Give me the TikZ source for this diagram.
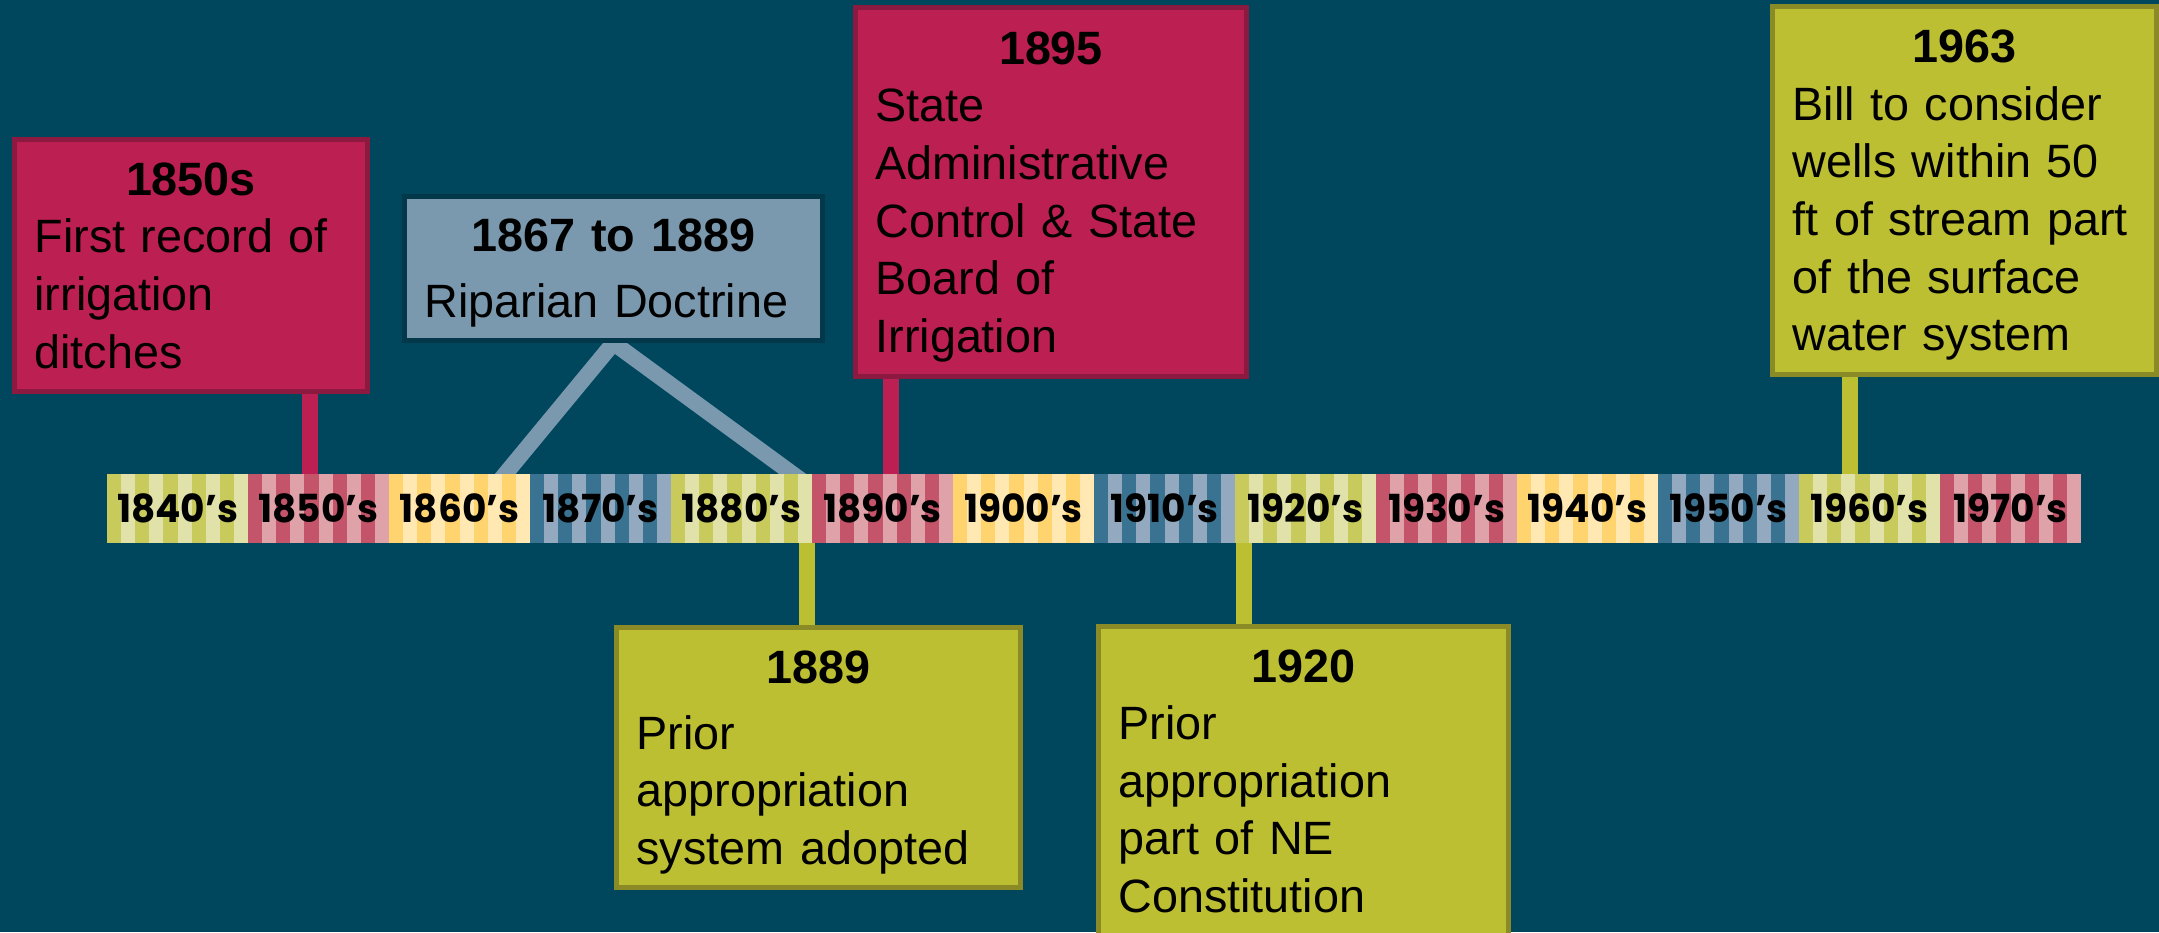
\documentclass[tikz,border=0pt]{standalone}
\usepackage{fontspec}
\setmainfont{Liberation Sans}
\newfontfamily\decadefont{Poppins}[FakeStretch=0.97]
\usetikzlibrary{positioning, calc}

\definecolor{bgblue}{HTML}{00475E}
\definecolor{grnD}{HTML}{C8CB5C}
\definecolor{grnL}{HTML}{E0E2AA}
\definecolor{pnkD}{HTML}{C4546A}
\definecolor{pnkL}{HTML}{DFA2A8}
\definecolor{ylwD}{HTML}{FFD36E}
\definecolor{ylwL}{HTML}{FFE8B2}
\definecolor{bluD}{HTML}{3A7291}
\definecolor{bluL}{HTML}{93A9BF}
\definecolor{evred}{HTML}{BC1F52}
\definecolor{evredline}{HTML}{8C1A40}
\definecolor{evolive}{HTML}{BDBF33}
\definecolor{evoliveline}{HTML}{8A8B26}
\definecolor{evslate}{HTML}{7A99AE}
\definecolor{evslateline}{HTML}{02384A}

\pgfdeclarelayer{bg}
\pgfdeclarelayer{stems}
\pgfsetlayers{bg,stems,main}

% title line centred, rest left, no depth below last line
\newcommand{\evtext}[2]{{\centering\bfseries #1\par}#2\par\kern-\prevdepth}

\tikzset{
  evbox/.style={rectangle, draw, line width=0.05cm, inner xsep=0.2cm, inner ysep=0pt,
    align=left, font=\fontsize{13.3}{16.4}\selectfont},
  redbox/.style={evbox, fill=evred, draw=evredline},
  olivebox/.style={evbox, fill=evolive, draw=evoliveline},
  slatebox/.style={evbox, fill=evslate, draw=evslateline},
  stem/.style={line width=0.16cm},
  decade/.style={rectangle, minimum width=1.41cm, minimum height=0.69cm, inner sep=0pt,
    font=\decadefont\bfseries\fontsize{11}{13}\selectfont}
}

\begin{document}
\begin{tikzpicture}
    \useasboundingbox (0,0) rectangle (21.59,9.32);
    \begin{pgfonlayer}{bg}
      \fill[bgblue] (0,0) rectangle (21.59,9.32);
    \end{pgfonlayer}

    % Decade bar
    \foreach \yr/\dk/\lt [count=\i from 0] in {1840/grnD/grnL, 1850/pnkD/pnkL, 1860/ylwD/ylwL,
        1870/bluD/bluL, 1880/grnD/grnL, 1890/pnkD/pnkL, 1900/ylwD/ylwL, 1910/bluD/bluL,
        1920/grnD/grnL, 1930/pnkD/pnkL, 1940/ylwD/ylwL, 1950/bluD/bluL, 1960/grnD/grnL,
        1970/pnkD/pnkL}
      \node[decade, fill=\lt, path picture={
          \foreach \k in {0,2,...,8}
            \fill[\dk] ([xshift=\k*1.41mm]path picture bounding box.south west) rectangle ++(0.141,0.69);
        }] (d\yr) at ({1.775+1.41*\i},4.235) {\yr{}’s};

    % Events above the bar
    \node[redbox, text width=3.13cm, minimum height=2.52cm] (ev1850) at (1.91,6.665)
        {\evtext{1850s}{First record of\\irrigation\\ditches}};
    \node[slatebox, text width=3.78cm, minimum height=1.44cm] (ev1867) at (6.135,6.635)
        {\evtext{1867 to 1889}{\vspace{0.8mm}Riparian Doctrine}};
    \node[redbox, text width=3.51cm, minimum height=3.69cm] (ev1895) at (10.51,7.40)
        {\evtext{1895}{State\\Administrative\\Control \& State\\Board of\\Irrigation}};
    \node[olivebox, text width=3.44cm, minimum height=3.68cm] (ev1963) at (19.645,7.415)
        {\evtext{1963}{Bill to consider\\wells within 50\\ft of stream part\\of the surface\\water system}};

    % Events below the bar
    \node[olivebox, text width=3.64cm, minimum height=2.60cm] (ev1889) at (8.185,1.745)
        {\evtext{1889}{\vspace{0.8mm}Prior\\appropriation\\system adopted}};
    \node[olivebox, text width=3.70cm, minimum height=3.09cm] (ev1920) at (13.035,1.51)
        {\evtext{1920}{Prior\\appropriation\\part of NE\\Constitution}};

    % Stems to the bar
    \coordinate (t1850) at (3.10,4.235);
    \coordinate (t1895) at (8.91,4.235);
    \coordinate (t1963) at (18.495,4.235);
    \coordinate (t1889) at (8.065,4.235);
    \coordinate (t1920) at (12.44,4.235);
    \coordinate (ripA) at (4.92,4.42);
    \coordinate (ripB) at (8.145,4.42);
    \begin{pgfonlayer}{stems}
      \draw[stem, evred] (t1850) -- (t1850 |- ev1850.center);
      \draw[stem, evred] (t1895) -- (t1895 |- ev1895.center);
      \draw[stem, evolive] (t1963) -- (t1963 |- ev1963.center);
      \draw[stem, evolive] (t1889) -- (t1889 |- ev1889.center);
      \draw[stem, evolive] (t1920) -- (t1920 |- ev1920.center);
      \draw[stem, evslate, line join=miter] (ripA) -- (ev1867.south) -- (ripB);
    \end{pgfonlayer}
\end{tikzpicture}
\end{document}
